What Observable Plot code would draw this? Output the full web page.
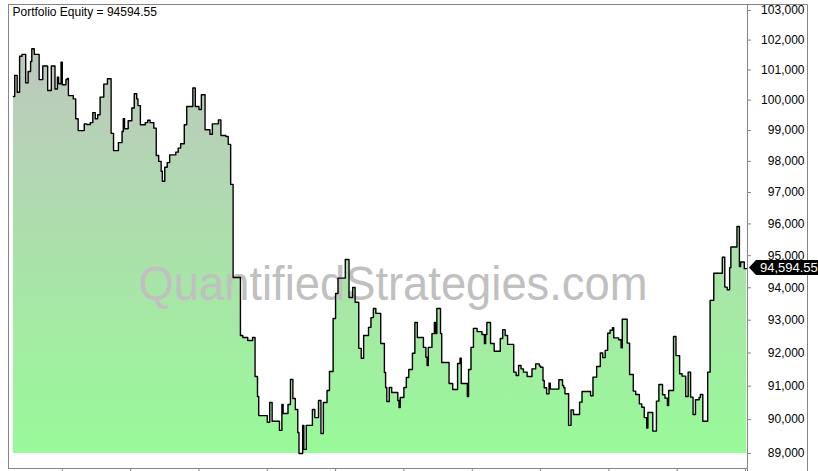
<!DOCTYPE html>
<html>
<head>
<meta charset="utf-8">
<script src="https://cdn.jsdelivr.net/npm/d3@7"></script>
<script src="https://cdn.jsdelivr.net/npm/@observablehq/plot@0.6"></script>
<style>
html, body { margin: 0; padding: 0; background: #fff; overflow: hidden; }
#chart svg { display: block; overflow: hidden !important; }
</style>
</head>
<body>
<div id="chart"></div>
<script>
const title = "Portfolio Equity = 94594.55";
const watermark = "QuantifiedStrategies.com";
const lastEquity = 94594.55;
const baseline = 89000;

// bar index (trading day) at which each equity change happens
const bars = [
  0, 1, 3, 5, 7, 10, 12, 14, 15, 17,
  21, 24, 28, 31, 34, 36, 37, 39, 40, 43,
  44, 45, 49, 51, 53, 58, 60, 63, 65, 67,
  69, 71, 74, 77, 80, 82, 86, 89, 90, 91,
  94, 97, 99, 101, 102, 104, 108, 110, 112, 115,
  117, 119, 121, 122, 124, 126, 128, 133, 135, 137,
  140, 142, 147, 149, 152, 154, 157, 161, 163, 168,
  170, 174, 176, 178, 180, 186, 188, 192, 196, 198,
  200, 201, 208, 210, 212, 218, 220, 221, 225, 227,
  229, 231, 233, 234, 237, 238, 240, 245, 247, 250,
  252, 254, 257, 259, 262, 264, 266, 272, 275, 278,
  280, 283, 285, 287, 291, 293, 295, 297, 301, 304,
  305, 306, 308, 310, 315, 316, 317, 320, 322, 324,
  327, 329, 331, 336, 338, 339, 340, 343, 345, 346,
  347, 350, 351, 357, 360, 364, 366, 367, 372, 373,
  375, 377, 380, 384, 386, 387, 388, 391, 394, 399,
  401, 403, 405, 410, 412, 414, 416, 418, 421, 425,
  428, 431, 432, 434, 435, 437, 439, 440, 447, 450,
  451, 452, 455, 457, 459, 464, 466, 473, 475, 478,
  481, 483, 485, 487, 489, 491, 492, 496, 498, 499,
  503, 505, 508, 510, 513, 515, 517, 519, 520, 524,
  527, 529, 532, 534, 536, 537, 541, 543, 546, 548,
  551, 553, 555, 557, 559, 562, 563, 565, 569, 571,
  574, 581, 583, 585, 587, 588, 593, 595, 596, 599,
  601
];

// portfolio equity value from that bar on
const equity = [
  100120, 100820, 100260, 101460, 101520, 100570, 100950, 101280, 101710, 101520,
  100680, 101130, 100320, 101130, 100370, 100760, 100540, 101260, 100510, 100680,
  100720, 100150, 100040, 99390, 99000, 99220, 99200, 99260, 99590, 99390,
  99520, 100100, 100530, 100710, 98910, 98350, 98610, 98970, 99390, 99060,
  99320, 99740, 100210, 100040, 99820, 99190, 99260, 99340, 99260, 99080,
  98190, 98000, 97680, 97360, 97810, 97960, 98210, 98300, 98430, 98570,
  99190, 99790, 100400, 99790, 99690, 100180, 99030, 98880, 99220, 99350,
  98840, 98810, 98550, 97260, 94320, 92530, 92470, 92380, 92470, 91290,
  90690, 90120, 89920, 90510, 89950, 89680, 90450, 90180, 90450, 91200,
  90630, 90300, 89620, 89000, 89830, 89120, 89830, 90300, 90060, 90570,
  89590, 90510, 90870, 91440, 93050, 93820, 94300, 94880, 93700, 94010,
  93550, 92140, 91840, 92530, 92780, 93080, 93360, 93210, 92290, 91410,
  90960, 90540, 90960, 90810, 90570, 90360, 90660, 90960, 91260, 91500,
  91990, 92930, 92470, 92170, 91870, 91620, 92170, 92590, 92930, 92590,
  93360, 92590, 91710, 91080, 90900, 91680, 91840, 91080, 90690, 91500,
  92170, 92750, 92650, 92560, 92290, 92560, 92930, 92290, 92050, 92440,
  92710, 92530, 92260, 91420, 91320, 91620, 91520, 91420, 91290, 91520,
  91670, 91610, 91570, 91170, 90950, 90770, 91090, 90910, 91190, 91020,
  90950, 90770, 89830, 90290, 90150, 90520, 90840, 90710, 91270, 91590,
  92000, 91860, 92080, 92600, 92690, 92770, 92460, 92400, 92160, 93030,
  92300, 91350, 90850, 90750, 90470, 90370, 90060, 89750, 90210, 89660,
  90550, 91050, 90740, 90640, 90420, 90870, 92500, 91920, 91370, 91300,
  90690, 91420, 90670, 90150, 90590, 90660, 90750, 89950, 91420, 93610,
  94450, 94950, 94020, 93940, 94620, 95270, 95920, 94660, 94800, 94594.55,
  94594.55
];

const yTicks = [89000, 90000, 91000, 92000, 93000, 94000, 95000, 96000, 97000, 98000, 99000, 100000, 101000, 102000, 103000];
const xTicks = [40, 96, 152, 208, 264, 320, 376, 432, 488, 544, 600];

const data = bars.map((b, i) => ({bar: b, equity: equity[i]}));

const font = "'Liberation Sans', Arial, sans-serif";
const gray = "#858585";
const W = 818, H = 471, mt = 4, mr = 71, mb = 3, ml = 8;
const fmt = d3.format(",");

const chart = Plot.plot({
  width: W,
  height: H,
  marginTop: mt,
  marginRight: mr,
  marginBottom: mb,
  marginLeft: ml,
  style: {fontFamily: font, fontSize: "12px", background: "white", overflow: "hidden"},
  x: {domain: [0, 600], range: [13, 745], axis: null},
  y: {type: "log", domain: [89000, 103000], range: [453, 10], axis: null},
  marks: [
    Plot.areaY(data, {x: "bar", y1: baseline, y2: "equity", curve: "step-after", fill: "url(#equityFill)"}),
    Plot.text([watermark], {frameAnchor: "middle", dx: 15, dy: 48, fontSize: 48, fill: "#c0c0c0", fontFamily: font}),
    Plot.lineY(data, {x: "bar", y: "equity", curve: "step-after", stroke: "black", strokeWidth: 1.4}),
    Plot.frame({stroke: gray}),
    Plot.tickY(yTicks, {y: d => d, stroke: gray, insetLeft: W - ml - mr, insetRight: -4}),
    Plot.text(yTicks, {y: d => d, text: d => fmt(d), frameAnchor: "right", textAnchor: "end", dx: 57, fill: "black", fontSize: 12}),
    Plot.axisX({anchor: "bottom", ticks: xTicks, tickSize: 3, tickFormat: () => "", stroke: gray, label: null}),
    Plot.text([title], {frameAnchor: "top-left", dx: 4, dy: 3, lineAnchor: "top", textAnchor: "start", fill: "black", fontSize: 12})
  ]
});

document.getElementById("chart").appendChild(chart);

const svg = d3.select(chart);
const yScale = chart.scale("y");
const axisPos = W - mr;

// gradient for the equity fill
const defs = svg.insert("defs", ":first-child");
const grad = defs.append("linearGradient")
  .attr("id", "equityFill")
  .attr("gradientUnits", "userSpaceOnUse")
  .attr("x1", 0).attr("x2", 0)
  .attr("y1", yScale.apply(d3.max(yTicks)))
  .attr("y2", yScale.apply(baseline));
grad.append("stop").attr("offset", 0).attr("stop-color", "#c2c2c2");
grad.append("stop").attr("offset", 1).attr("stop-color", "#98fa98");

// watermark fitted width
svg.selectAll("text")
  .filter(function () { return this.textContent === watermark; })
  .attr("textLength", 509)
  .attr("lengthAdjust", "spacingAndGlyphs");

// outer border around the axis panel
svg.append("path")
  .attr("d", `M${axisPos},${mt + 0.5}H${W - 10.5}V${H}M${axisPos + 0.5},${H - mb}V${H}`)
  .attr("fill", "none")
  .attr("stroke", gray);

// last value marker on the axis
const yl = Math.round(yScale.apply(lastEquity)) - 0.5;
svg.append("path")
  .attr("d", `M${axisPos + 2},${yl}L${axisPos + 9},${yl - 7.5}H${W}V${yl + 7.5}H${axisPos + 9}Z`)
  .attr("fill", "black");
svg.append("text")
  .attr("x", axisPos + 13)
  .attr("y", yl + 4.5)
  .attr("text-anchor", "start")
  .attr("fill", "white")
  .attr("font-family", font)
  .attr("font-size", 13)
  .text(d3.format(",.2f")(lastEquity));
</script>
</body>
</html>
